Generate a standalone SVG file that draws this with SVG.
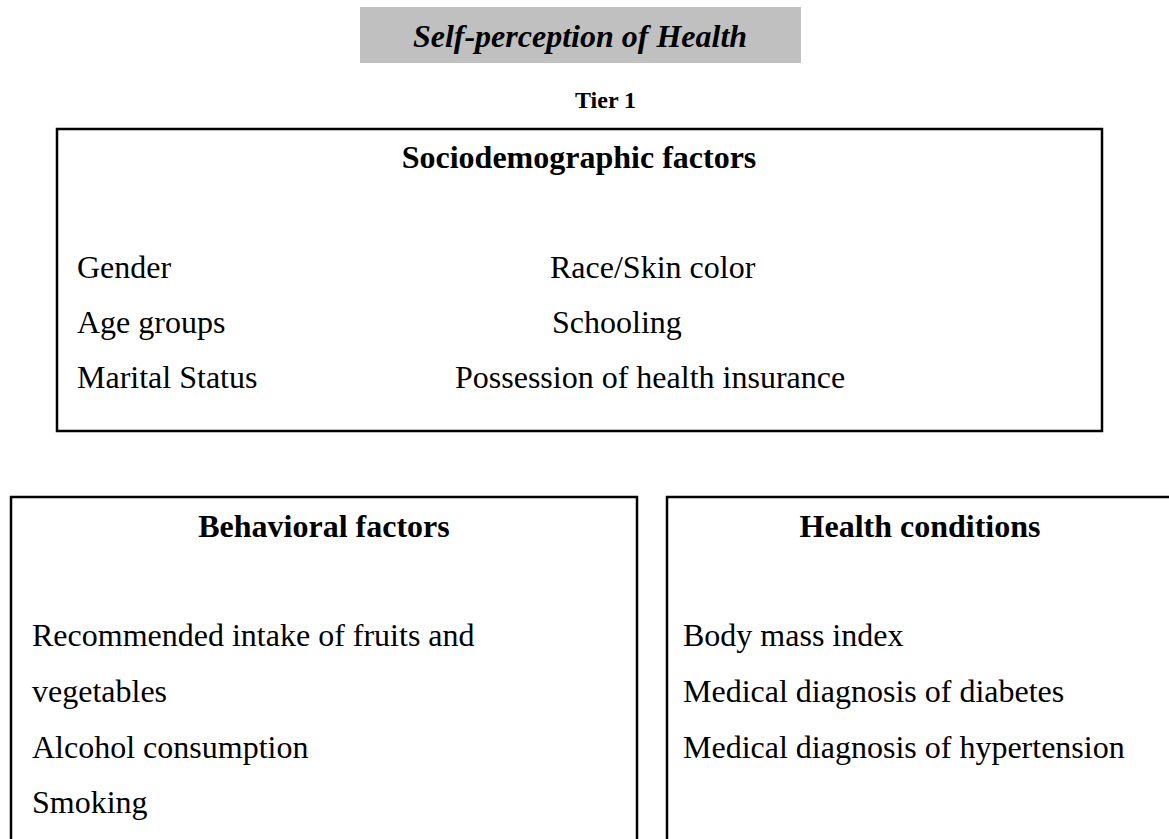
<svg xmlns="http://www.w3.org/2000/svg" width="1169" height="839" viewBox="0 0 1169 839">
<style>
text{font-family:"Liberation Serif","Times New Roman",serif;fill:#000}
.b{font-size:32px}
.h{font-size:32px;font-weight:bold;text-anchor:middle}
.box{fill:#fff;stroke:#000;stroke-width:2.5}
</style>
<rect width="1169" height="839" fill="#fff"/>
<g id="self-perception">
<rect x="360" y="7" width="441" height="56" fill="#c0c0c0"/>
<text x="580" y="47" font-size="32" font-weight="bold" font-style="italic" text-anchor="middle">Self-perception of Health</text>
</g>
<g id="tier1">
<text x="575" y="108" font-size="24" font-weight="bold">Tier 1</text>
</g>
<g id="sociodemographic">
<rect class="box" x="57" y="129" width="1045" height="302"/>
<text class="h" x="579" y="168">Sociodemographic factors</text>
<text class="b" x="77" y="278">Gender</text>
<text class="b" x="77" y="333">Age groups</text>
<text class="b" x="77" y="388">Marital Status</text>
<text class="b" x="550" y="278">Race/Skin color</text>
<text class="b" x="552" y="333">Schooling</text>
<text class="b" x="455" y="388">Possession of health insurance</text>
</g>
<g id="behavioral">
<rect class="box" x="11" y="497" width="626" height="360"/>
<text class="h" x="324" y="537">Behavioral factors</text>
<text class="b" x="32" y="646">Recommended intake of fruits and</text>
<text class="b" x="32" y="702">vegetables</text>
<text class="b" x="32" y="758">Alcohol consumption</text>
<text class="b" x="32" y="813">Smoking</text>
</g>
<g id="health-conditions">
<rect class="box" x="667" y="497" width="520" height="360"/>
<text class="h" x="920" y="537">Health conditions</text>
<text class="b" x="683" y="646">Body mass index</text>
<text class="b" x="683" y="702">Medical diagnosis of diabetes</text>
<text class="b" x="683" y="758">Medical diagnosis of hypertension</text>
</g>
<g id="connectors"></g>
</svg>
